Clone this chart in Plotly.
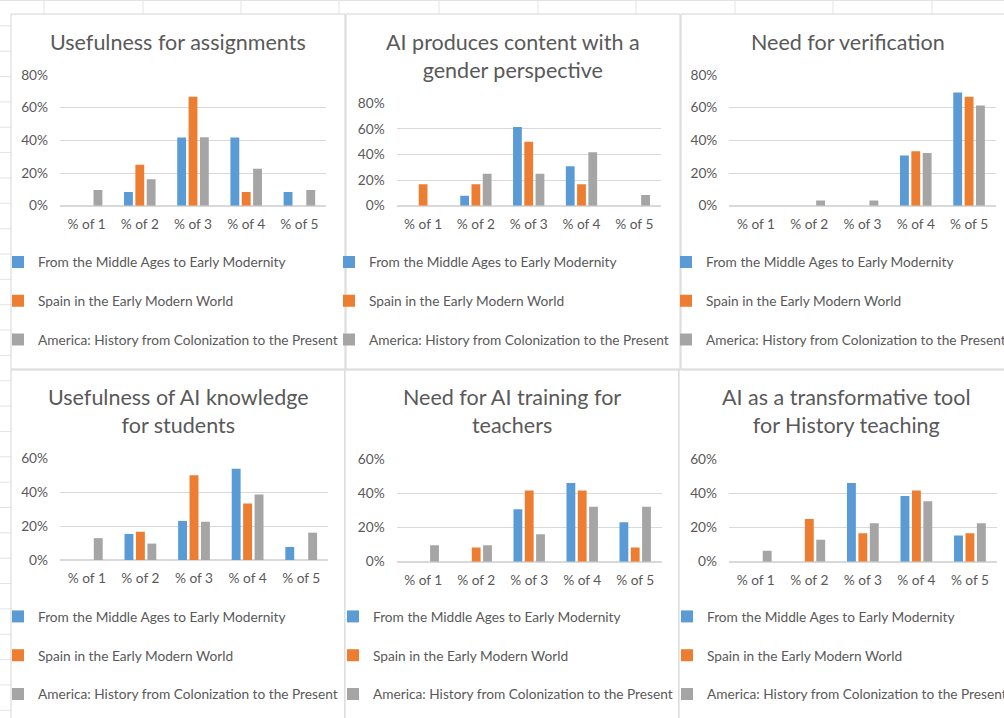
import plotly.graph_objects as go

W, H = 1004, 718
FONT = "Lato"
TXT = "#595959"
GRID = "#d9d9d9"
SMALL = 13.7
TITLE = 21.5

categories = ["% of 1", "% of 2", "% of 3", "% of 4", "% of 5"]
series_names = [
    "From the Middle Ages to Early Modernity",
    "Spain in the Early Modern World",
    "America: History from Colonization to the Present",
]
colors = ["#5B9BD5", "#ED7D31", "#A5A5A5"]

titles = [
    "Usefulness for assignments",
    "AI produces content with a<br>gender perspective",
    "Need for verification",
    "Usefulness of AI knowledge<br>for students",
    "Need for AI training for<br>teachers",
    "AI as a transformative tool<br>for History teaching",
]

# values (fractions) per chart: [middle ages, spain, america]
assignments_mid = [0.0, 0.0833, 0.4167, 0.4167, 0.0833]
assignments_spain = [0.0, 0.25, 0.6667, 0.0833, 0.0]
assignments_america = [0.0968, 0.1613, 0.4194, 0.2258, 0.0968]

gender_mid = [0.0, 0.0769, 0.6154, 0.3077, 0.0]
gender_spain = [0.1667, 0.1667, 0.50, 0.1667, 0.0]
gender_america = [0.0, 0.25, 0.25, 0.4167, 0.0833]

verification_mid = [0.0, 0.0, 0.0, 0.3077, 0.6923]
verification_spain = [0.0, 0.0, 0.0, 0.3333, 0.6667]
verification_america = [0.0, 0.0323, 0.0323, 0.3226, 0.6129]

students_mid = [0.0, 0.1538, 0.2308, 0.5385, 0.0769]
students_spain = [0.0, 0.1667, 0.50, 0.3333, 0.0]
students_america = [0.129, 0.0968, 0.2258, 0.3871, 0.1613]

teachers_mid = [0.0, 0.0, 0.3077, 0.4615, 0.2308]
teachers_spain = [0.0, 0.0833, 0.4167, 0.4167, 0.0833]
teachers_america = [0.0968, 0.0968, 0.1613, 0.3226, 0.3226]

transform_mid = [0.0, 0.0, 0.4615, 0.3846, 0.1538]
transform_spain = [0.0, 0.25, 0.1667, 0.4167, 0.1667]
transform_america = [0.0645, 0.129, 0.2258, 0.3548, 0.2258]

chart_values = [
    [assignments_mid, assignments_spain, assignments_america],
    [gender_mid, gender_spain, gender_america],
    [verification_mid, verification_spain, verification_america],
    [students_mid, students_spain, students_america],
    [teachers_mid, teachers_spain, teachers_america],
    [transform_mid, transform_spain, transform_america],
]
y_max = [0.8, 0.8, 0.8, 0.6, 0.6, 0.6]

# layout geometry (pixels)
boxes = [(11, 14, 345, 369), (346, 14, 680, 369), (681, 14, 1015, 369),
         (11, 370, 345, 730), (345, 370, 679, 730), (679, 370, 1013, 730)]
plot_x = [(60, 326), (396.7, 660.7), (729.3, 995.7), (60, 328), (396.7, 661.7), (729, 996.7)]
plot_y = [(75, 205.7), (103.3, 205.7), (75, 205.7), (458.3, 560), (459.3, 561.7), (459.3, 561.7)]
title_y = [42, 56, 42, 411, 411, 411]
legend_text_x = [38, 369, 706, 38, 373, 707]
legend_top_y = [246.5, 246.5, 246.5, 601, 601, 601]

sheet_cols = [44, 143, 241, 339, 439, 538, 636, 735, 833, 932]
sheet_rows = [0.5 + 25.35 * k for k in range(30)]


def fx(px):
    return px / W


def fy(py):
    return 1 - py / H


fig = go.Figure()
layout = dict(
    width=W, height=H,
    margin=dict(l=0, r=0, t=0, b=0, autoexpand=False),
    paper_bgcolor="white", plot_bgcolor="white",
    font=dict(family=FONT, color=TXT, size=SMALL),
    barmode="group", bargap=0.36, bargroupgap=0.22,
    shapes=[], annotations=[],
)

for c in sheet_cols:
    layout["shapes"].append(dict(type="line", xref="paper", yref="paper",
                                 x0=fx(c), x1=fx(c), y0=0, y1=1,
                                 line=dict(color="#e3e3e3", width=1), layer="below"))
for r in sheet_rows:
    layout["shapes"].append(dict(type="line", xref="paper", yref="paper",
                                 x0=0, x1=1, y0=fy(r), y1=fy(r),
                                 line=dict(color="#e3e3e3", width=1), layer="below"))
for (x0, y0, x1, y1) in boxes:
    layout["shapes"].append(dict(type="rect", xref="paper", yref="paper",
                                 x0=fx(x0), x1=fx(x1), y0=fy(y1), y1=fy(y0),
                                 fillcolor="white", line=dict(color="#d4d4d4", width=1),
                                 layer="below"))

for i in range(6):
    n = i + 1
    xa = "x" if n == 1 else f"x{n}"
    ya = "y" if n == 1 else f"y{n}"
    lg = "legend" if n == 1 else f"legend{n}"
    for j in range(3):
        fig.add_trace(go.Bar(
            x=categories, y=chart_values[i][j], name=series_names[j],
            marker=dict(color=colors[j], line=dict(width=0)),
            xaxis=xa, yaxis=ya, legend=lg, legendgroup=f"c{n}s{j}",
            hovertemplate="%{x}: %{y:.1%}<extra>" + series_names[j] + "</extra>",
        ))
    layout[f"xaxis{n}"] = dict(
        domain=[fx(plot_x[i][0]), fx(plot_x[i][1])], anchor=ya,
        showline=True, linecolor=GRID, linewidth=1, ticks="", showgrid=False,
        tickfont=dict(size=SMALL, color=TXT, family=FONT), ticklabelstandoff=6,
        fixedrange=True,
    )
    layout[f"yaxis{n}"] = dict(
        domain=[fy(plot_y[i][1]), fy(plot_y[i][0])], anchor=xa,
        range=[0, y_max[i]], dtick=0.2, tickformat=".0%",
        showgrid=True, gridcolor=GRID, gridwidth=1, zeroline=True, zerolinecolor=GRID,
        showline=False, ticks="", tickfont=dict(size=SMALL, color=TXT, family=FONT),
        ticklabelstandoff=11, fixedrange=True,
    )
    bx0, by0, bx1, by1 = boxes[i]
    layout["annotations"].append(dict(
        xref="paper", yref="paper", x=fx((bx0 + bx1) / 2), y=fy(title_y[i]),
        xanchor="center", yanchor="middle", text=titles[i], showarrow=False,
        font=dict(size=TITLE, color=TXT, family=FONT), align="center",
    ))
    layout[lg] = dict(
        x=fx(legend_text_x[i] - 40), xanchor="left", y=fy(legend_top_y[i]), yanchor="top",
        orientation="v", traceorder="grouped", tracegroupgap=18,
        bgcolor="rgba(0,0,0,0)", font=dict(size=SMALL, color=TXT, family=FONT),
        itemclick=False, itemdoubleclick=False,
    )

fig.update_layout(**layout)
fig.write_html("out.html", config={"displayModeBar": False},
               post_script="document.body.style.margin='0';")
